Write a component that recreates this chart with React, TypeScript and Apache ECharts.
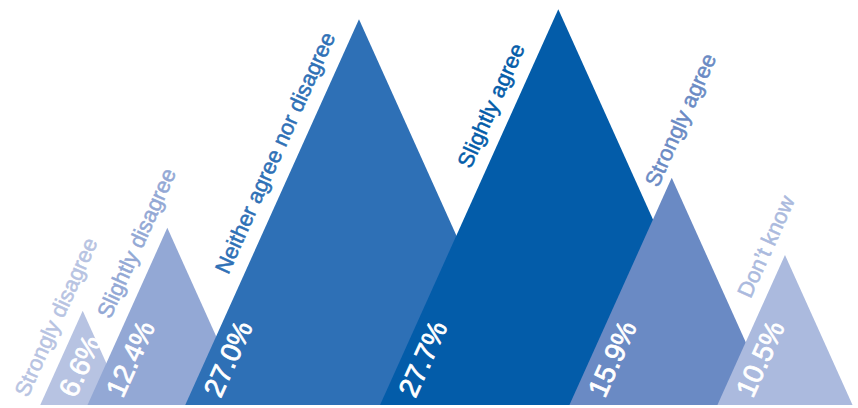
import React, { useEffect, useRef } from 'react';
import * as echarts from 'echarts';

// ---- data ----
const categories = [
  'Strongly disagree',
  'Slightly disagree',
  'Neither agree nor disagree',
  'Slightly agree',
  'Strongly agree',
  'Don\u2019t know',
];
const values = [6.6, 12.4, 27.0, 27.7, 15.9, 10.5];
const percentLabels = ['6.6%', '12.4%', '27.0%', '27.7%', '15.9%', '10.5%'];
// horizontal placement of each peak, in x-axis units (0–100 across the chart)
const peakPositions = [9.64, 19.5, 41.84, 65.07, 78.29, 91.49];

// ---- layout / style ----
const colors = ['#b7c3e2', '#93a8d5', '#2e70b6', '#035ca9', '#6a8ac4', '#abbade'];
const labelAlong = [1, 87, 136, 252, 234, 110]; // px along left edge where category label starts
const labelGap = [14, 14, 14, 14, 8, 13]; // px between left edge and category label baseline
const SLOPE = 2.22;
const ANGLE = Math.atan(SLOPE);
const FONT = '"Liberation Sans", Arial, Helvetica, sans-serif';
const CAT_SIZE = 22;
const PCT_SIZE = 28;
const PCT_ACROSS = -30 + PCT_SIZE * 0.35;
const PCT_ALONG = 20;

export default function App() {
  const ref = useRef<HTMLDivElement>(null);
  useEffect(() => {
    if (!ref.current) return;
    const chart = echarts.init(ref.current, undefined, { renderer: 'svg' });
    const renderItem = (params: any, api: any) => {
      const i = params.dataIndex;
      const x = api.value(0);
      const v = api.value(1);
      const apex = api.coord([x, v]);
      const base = api.coord([x, 0]);
      const h = base[1] - apex[1];
      const hw = h / SLOPE;
      const bl = [base[0] - hw, base[1]];
      const br = [base[0] + hw, base[1]];
      const ux = Math.cos(ANGLE), uy = -Math.sin(ANGLE);
      const nx = -Math.sin(ANGLE), ny = -Math.cos(ANGLE);
      const at = (s: number, d: number) => [bl[0] + s * ux + d * nx, bl[1] + s * uy + d * ny];
      const pct = at(PCT_ALONG, PCT_ACROSS);
      const cat = at(labelAlong[i], labelGap[i] + CAT_SIZE * 0.35);
      return {
        type: 'group',
        children: [
          {
            type: 'polygon',
            shape: { points: [bl, apex, br] },
            style: { fill: colors[i] },
          },
          {
            type: 'text',
            x: pct[0],
            y: pct[1],
            rotation: ANGLE,
            style: {
              text: percentLabels[i],
              fill: '#ffffff',
              stroke: '#ffffff',
              lineWidth: 0.8,
              font: `${PCT_SIZE}px ${FONT}`,
              align: 'left',
              verticalAlign: 'middle',
            },
          },
          {
            type: 'text',
            x: cat[0],
            y: cat[1],
            rotation: ANGLE,
            style: {
              text: categories[i],
              fill: colors[i],
              stroke: colors[i],
              lineWidth: 0.5,
              font: `${CAT_SIZE}px ${FONT}`,
              align: 'left',
              verticalAlign: 'middle',
            },
          },
        ],
      };
    };
    chart.setOption({
      animation: false,
      grid: { left: 0, right: 0, top: 5, bottom: 3 },
      xAxis: { type: 'value', min: 0, max: 100, show: false },
      yAxis: { type: 'value', min: 0, max: 28, show: false },
      series: [
        {
          type: 'custom',
          renderItem,
          clip: false,
          data: peakPositions.map((p, i) => [p, values[i]]),
        },
      ],
    });
    return () => chart.dispose();
  }, []);
  return (
    <div
      ref={ref}
      style={{ position: 'fixed', left: 0, top: 0, width: 858, height: 408, background: '#fff' }}
    />
  );
}
